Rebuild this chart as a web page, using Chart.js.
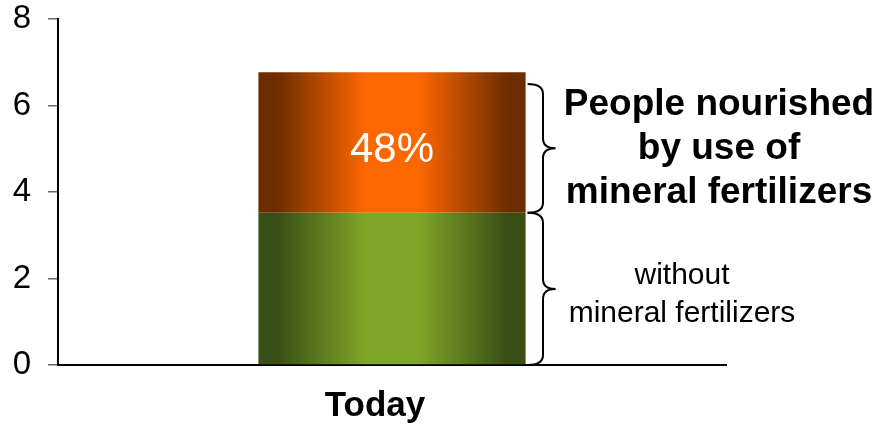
<!DOCTYPE html>
<html>
<head>
<meta charset="utf-8">
<script src="https://cdn.jsdelivr.net/npm/chart.js@4.4.1/dist/chart.umd.min.js"></script>
<style>
  html, body { margin: 0; padding: 0; background: #fff; }
  #wrap { position: relative; width: 879px; height: 427px; }
</style>
</head>
<body>
<div id="wrap"><canvas id="myChart"></canvas></div>
<script>
const categories = ["Today"];
const withoutFertilizer = [3.52];
const withFertilizer = [3.25];
const yTicks = [0, 2, 4, 6, 8];

// brace spans in axis units: [from, to]
const braceSpans = [[0, 3.52], [3.52, 6.5]];
const boldNote = ["People nourished", "by use of", "mineral fertilizers"];
const plainNote = ["without", "mineral fertilizers"];

const FONT = "'Liberation Sans', Arial, sans-serif";

// horizontal "cylinder" shading across each bar
const shadeBars = {
  id: "shadeBars",
  beforeDatasetsDraw(chart) {
    const ctx = chart.ctx;
    const palettes = [
      ["#394f15", "#7fa526"],
      ["#6e2d00", "#fd6700"],
    ];
    chart.data.datasets.forEach((ds, i) => {
      const meta = chart.getDatasetMeta(i);
      meta.data.forEach((bar) => {
        const left = bar.x - bar.width / 2;
        const right = bar.x + bar.width / 2;
        const [dark, bright] = palettes[i];
        const g = ctx.createLinearGradient(left, 0, right, 0);
        g.addColorStop(0, dark);
        g.addColorStop(0.07, dark);
        g.addColorStop(0.4, bright);
        g.addColorStop(0.6, bright);
        g.addColorStop(0.93, dark);
        g.addColorStop(1, dark);
        bar.options.backgroundColor = g;
      });
    });
  },
};

function drawBrace(ctx, x, yTop, yBot, depth) {
  const mid = (yTop + yBot) / 2;
  const r = 10;
  const xl = x + depth * 0.55;
  ctx.beginPath();
  ctx.moveTo(x, yTop);
  ctx.quadraticCurveTo(xl, yTop, xl, yTop + r);
  ctx.lineTo(xl, mid - r);
  ctx.quadraticCurveTo(xl, mid, x + depth, mid);
  ctx.quadraticCurveTo(xl, mid, xl, mid + r);
  ctx.lineTo(xl, yBot - r);
  ctx.quadraticCurveTo(xl, yBot, x, yBot);
  ctx.stroke();
}

const annotations = {
  id: "annotations",
  afterDatasetsDraw(chart) {
    const ctx = chart.ctx;
    const y = chart.scales.y;
    const meta = chart.getDatasetMeta(1);
    const bar = meta.data[0];
    const barRight = bar.x + bar.width / 2;

    // share of the top segment
    const total = withoutFertilizer[0] + withFertilizer[0];
    const pct = Math.round((withFertilizer[0] / total) * 100) + "%";
    ctx.save();
    ctx.fillStyle = "#ffffff";
    ctx.font = "42px " + FONT;
    ctx.textAlign = "center";
    ctx.textBaseline = "middle";
    ctx.fillText(pct, bar.x, 150);

    // braces
    ctx.strokeStyle = "#000";
    ctx.lineWidth = 2;
    const tips = braceSpans.map(([a, b]) => {
      const top = y.getPixelForValue(b);
      const bot = y.getPixelForValue(a);
      drawBrace(ctx, barRight + 2, top, bot, 28);
      return (top + bot) / 2;
    });

    ctx.fillStyle = "#000";
    ctx.font = "bold 37px " + FONT;
    boldNote.forEach((line, i) => {
      ctx.fillText(line, 719, tips[1] + (i - 1) * 44);
    });
    ctx.font = "30px " + FONT;
    plainNote.forEach((line, i) => {
      ctx.fillText(line, 682, tips[0] + 6 + (i - 0.5) * 38);
    });
    ctx.restore();
  },
};

new Chart(document.getElementById("myChart"), {
  type: "bar",
  data: {
    labels: categories,
    datasets: [
      { label: "without mineral fertilizers", data: withoutFertilizer, backgroundColor: "#7fa526" },
      { label: "by use of mineral fertilizers", data: withFertilizer, backgroundColor: "#fd6700" },
    ],
  },
  options: {
    responsive: true,
    maintainAspectRatio: false,
    animation: false,
    layout: { padding: { top: 19, right: 153, left: 0, bottom: 0 } },
    plugins: { legend: { display: false }, tooltip: { enabled: false } },
    datasets: { bar: { categoryPercentage: 1, barPercentage: 0.4 } },
    scales: {
      x: {
        stacked: true,
        grid: { display: false },
        border: { display: true, color: "#000", width: 2 },
        ticks: { color: "#000", font: { family: FONT, size: 35, weight: "bold" }, padding: 12, labelOffset: -17 },
        afterFit(scale) {
          scale.height = 62;
          scale.paddingLeft = 0;
          scale.paddingRight = 0;
        },
      },
      y: {
        stacked: true,
        min: 0,
        max: 8,
        afterBuildTicks(scale) { scale.ticks = yTicks.map((v) => ({ value: v })); },
        grid: { display: true, drawOnChartArea: false, drawTicks: true, tickLength: 10, color: "#666", lineWidth: 1.5 },
        border: { display: true, color: "#000", width: 2 },
        ticks: { color: "#000", font: { family: FONT, size: 33 }, padding: 17 },
        afterFit(scale) {
          scale.width = 58;
          scale.paddingTop = 0;
          scale.paddingBottom = 0;
        },
      },
    },
  },
  plugins: [shadeBars, annotations],
});
</script>
</body>
</html>
